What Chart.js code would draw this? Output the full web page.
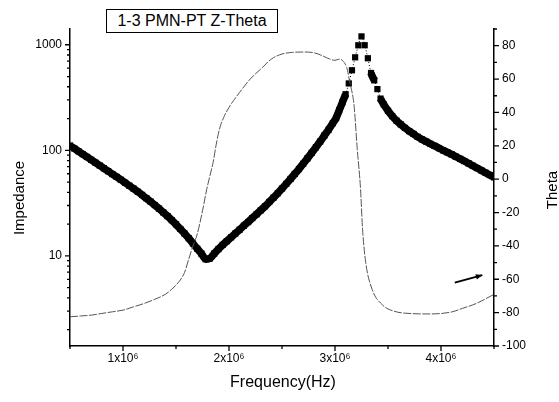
<!DOCTYPE html>
<html><head><meta charset="utf-8">
<script src="https://cdn.jsdelivr.net/npm/chart.js@4.4.1/dist/chart.umd.min.js"></script>
<style>
html,body{margin:0;padding:0;background:#fff;}
#wrap{position:relative;width:559px;height:402px;overflow:hidden;}
#title{position:absolute;left:106px;top:9px;width:170px;height:22px;border:1.5px solid #000;font:16px "Liberation Sans",Arial,sans-serif;line-height:22px;text-align:center;color:#000;background:#fff;}
canvas{display:block;}
</style></head><body>
<div id="wrap"><canvas id="c" width="559" height="402"></canvas><div id="title">1-3 PMN-PT Z-Theta</div></div>
<script>
// Frequency sweep (MHz) for impedance markers
const freqMHz = [0.50,0.54,0.58,0.62,0.66,0.70,0.74,0.78,0.82,0.86,0.90,0.94,0.98,1.02,1.06,1.10,1.14,1.18,1.22,1.26,1.30,1.34,1.38,1.42,1.46,1.50,1.54,1.58,1.62,1.66,1.70,1.74,1.78,1.82,1.86,1.90,1.94,1.98,2.02,2.06,2.10,2.14,2.18,2.22,2.26,2.30,2.34,2.38,2.42,2.46,2.50,2.54,2.58,2.62,2.66,2.70,2.74,2.78,2.82,2.86,2.90,2.94,2.98,3.01,3.04,3.07,3.10,3.13,3.16,3.19,3.22,3.25,3.28,3.31,3.34,3.37,3.40,3.43,3.46,3.50,3.54,3.58,3.62,3.66,3.70,3.74,3.78,3.82,3.86,3.90,3.94,3.98,4.02,4.06,4.10,4.14,4.18,4.22,4.26,4.30,4.34,4.38,4.42,4.46,4.50];
// Impedance magnitude (ohm)
const impedance = [111,104.2,97.9,92.0,86.5,81.3,76.4,71.8,67.5,63.4,59.6,56.0,52.6,49.3,46.2,43.3,40.5,37.8,35.2,32.7,30.3,28.0,25.8,23.8,21.8,19.9,18.0,16.3,14.7,13.1,11.7,10.5,9.3,9.45,10.5,11.6,12.7,13.8,15.0,16.3,17.7,19.3,20.9,22.8,24.8,27.0,29.5,32.4,35.6,39.2,43.4,48.1,53.5,59.6,66.5,74.6,83.9,94.6,106.9,121,138,157,181,202,240,285,340,430,573,760,988,1200,990,745,540,460,380,309,272,237,211,191,176,163,152,143,134,127,121,115,110,105,100,95.7,91.4,87.1,83,79.1,75.2,71.4,67.9,64.6,61.4,58.3,55.5];
// Phase curve (MHz, degrees)
const thetaFreqMHz = [0.50,0.60,0.70,0.80,0.90,1.00,1.10,1.20,1.30,1.40,1.46,1.50,1.54,1.58,1.62,1.66,1.70,1.75,1.79,1.82,1.85,1.88,1.91,1.95,2.00,2.10,2.20,2.30,2.40,2.50,2.60,2.70,2.80,2.88,2.95,3.00,3.04,3.08,3.11,3.14,3.18,3.21,3.24,3.26,3.29,3.35,3.45,3.55,3.73,3.90,4.10,4.20,4.33,4.48,4.50];
const theta = [-82.5,-82,-81.5,-80.5,-79.5,-78.5,-76.5,-74.5,-72,-69,-66,-63.5,-60.5,-56,-48,-40,-33,-19,-6,2,10,21,30,37,43,52,60,66,72,75,76,76.2,75.8,74,72,71.2,72,70.5,67,58,44,18,-5,-30,-50,-66,-75.5,-79,-80.6,-80.8,-79.6,-77.5,-74.6,-69.7,-69];
// Axis tick labels
const xTickLabels = {1:'1x10\u2076',2:'2x10\u2076',3:'3x10\u2076',4:'4x10\u2076'};
const zTickLabels = [10,100,1000];
const thetaTickLabels = [-100,-80,-60,-40,-20,0,20,40,60,80];
// Annotation arrow (Hz, degrees)
const arrowFrom = [4.13e6,-62];
const arrowTo = [4.39e6,-57.5];

const FONT = '"Liberation Sans", Arial, sans-serif';

const impData = freqMHz.map((f,i)=>({x:f*1e6,y:impedance[i]}));
const thData = thetaFreqMHz.map((f,i)=>({x:f*1e6,y:theta[i]}));

const segLen = c => Math.hypot(c.p1.x-c.p0.x, c.p1.y-c.p0.y);

const tickPlugin = {
  id:'tickMarks',
  afterDraw(chart){
    const ctx=chart.ctx, a=chart.chartArea;
    const sx=chart.scales.x, sy=chart.scales.y, sy1=chart.scales.y1;
    ctx.save();
    ctx.strokeStyle='#000'; ctx.lineWidth=1.3;
    ctx.beginPath();
    for(let v=0.5e6; v<=4.5e6+1; v+=0.5e6){
      const p=sx.getPixelForValue(v); const L=(Math.round(v)%1000000===0)?5:3;
      ctx.moveTo(p,a.bottom); ctx.lineTo(p,a.bottom+L);
    }
    for(const d of [1,10,100,1000]){
      for(let m=1;m<=9;m++){
        const v=m*d; if(v<sy.min||v>sy.max) continue;
        const p=sy.getPixelForValue(v); const L=(m===1)?5:3;
        ctx.moveTo(a.left,p); ctx.lineTo(a.left-L,p);
      }
    }
    for(let v=-100; v<=90; v+=10){
      const p=sy1.getPixelForValue(v); const L=(v%20===0)?5:3;
      ctx.moveTo(a.right,p); ctx.lineTo(a.right+L,p);
    }
    ctx.stroke();
    // axis titles
    ctx.fillStyle='#000';
    ctx.font='16px '+FONT; ctx.textAlign='center'; ctx.textBaseline='alphabetic';
    ctx.fillText('Frequency(Hz)', 283, 387);
    ctx.font='15px '+FONT;
    ctx.save(); ctx.translate(24,198); ctx.rotate(-Math.PI/2); ctx.fillText('Impedance',0,0); ctx.restore();
    ctx.save(); ctx.translate(557,190); ctx.rotate(-Math.PI/2); ctx.fillText('Theta',0,0); ctx.restore();
    // arrow annotation
    const x0=sx.getPixelForValue(arrowFrom[0]), y0=sy1.getPixelForValue(arrowFrom[1]);
    const x1=sx.getPixelForValue(arrowTo[0]), y1=sy1.getPixelForValue(arrowTo[1]);
    ctx.lineWidth=2; ctx.beginPath(); ctx.moveTo(x0,y0); ctx.lineTo(x1,y1); ctx.stroke();
    const ang=Math.atan2(y1-y0,x1-x0);
    ctx.beginPath(); ctx.moveTo(x1,y1);
    ctx.lineTo(x1-7*Math.cos(ang-0.4), y1-7*Math.sin(ang-0.4));
    ctx.lineTo(x1-7*Math.cos(ang+0.4), y1-7*Math.sin(ang+0.4));
    ctx.closePath(); ctx.fill();
    ctx.restore();
  }
};

const gridOpts = {display:true, drawOnChartArea:false, drawTicks:true, tickLength:5, color:'rgba(0,0,0,0)'};

new Chart(document.getElementById('c'), {
  type:'scatter',
  data:{datasets:[
    {label:'Theta', data:thData, yAxisID:'y1', showLine:true, borderColor:'#555', borderWidth:1, borderDash:[8,1.5], pointRadius:0, cubicInterpolationMode:'monotone', order:1},
    {label:'Impedance', data:impData, yAxisID:'y', showLine:true, borderColor:'#000', borderWidth:1, borderJoinStyle:'round', cubicInterpolationMode:'monotone',
     segment:{borderWidth:c=>segLen(c)<9?7.5:1, borderDash:c=>segLen(c)<9?[]:[1,2]},
     pointStyle:'rect', pointRadius:4.4, pointBackgroundColor:'#000', pointBorderColor:'#000', pointBorderWidth:0, order:2}
  ]},
  options:{
    responsive:false, animation:false, devicePixelRatio:1,
    layout:{padding:{top:29,left:0,right:0,bottom:0}},
    plugins:{legend:{display:false}, title:{display:false}, tooltip:{enabled:false}},
    scales:{
      x:{type:'linear', position:'bottom', min:0.5e6, max:4.5e6,
         afterFit(s){s.height=56;},
         border:{display:true,color:'#000',width:1.5},
         grid:gridOpts,
         ticks:{stepSize:0.5e6, autoSkip:false, maxRotation:0, padding:0, color:'#000', font:{family:FONT,size:12},
           callback:(v)=>{const k=v/1e6; return xTickLabels[k]||'';}}},
      y:{type:'logarithmic', position:'left', min:1.4, max:1410,
         afterFit(s){s.width=70;},
         border:{display:true,color:'#000',width:1.5},
         grid:gridOpts,
         ticks:{autoSkip:false, padding:3, color:'#000', font:{family:FONT,size:12},
           callback:(v)=>{const m=zTickLabels.find(t=>Math.abs(t-v)<1e-6*t); return m?String(m):'';}}},
      y1:{type:'linear', position:'right', min:-100, max:90,
         afterFit(s){s.width=65;},
         border:{display:true,color:'#000',width:1.5},
         grid:gridOpts,
         ticks:{stepSize:10, autoSkip:false, padding:3, color:'#000', font:{family:FONT,size:12},
           callback:(v)=>thetaTickLabels.includes(v)?String(v):''}}
    }
  },
  plugins:[tickPlugin]
});
</script>
</body></html>
